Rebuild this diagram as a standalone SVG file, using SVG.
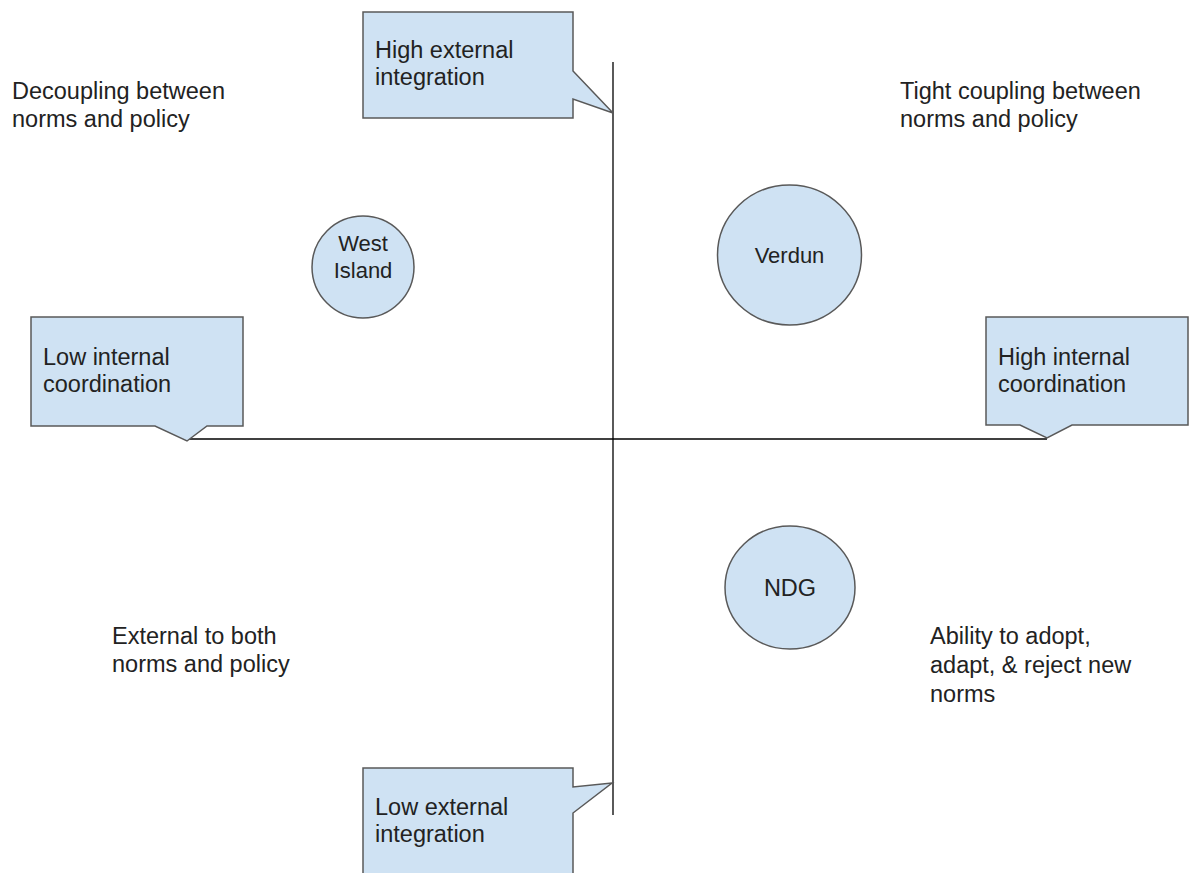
<svg xmlns="http://www.w3.org/2000/svg" width="1189" height="873" viewBox="0 0 1189 873">
<style>
.shape{fill:#cfe2f3;stroke:#595959;stroke-width:1.5}
.axis{stroke:#000;stroke-width:1.3;fill:none}
text{font-family:"Liberation Sans",Arial,sans-serif;font-size:23.5px;fill:#222}
.c{text-anchor:middle}
.s{font-size:22px}
</style>
<rect width="1189" height="873" fill="#fff"/>
<g id="connectors">
<line class="axis" x1="613" y1="62" x2="613" y2="815"/>
<line class="axis" x1="187" y1="439" x2="1047" y2="439"/>
</g>
<g id="high-external">
<path class="shape" d="M363,12 H573 V71 L613,113 L573,99 V118 H363 Z"/>
<text x="375" y="58">High external</text>
<text x="375" y="85">integration</text>
</g>
<g id="low-internal">
<path class="shape" d="M31,317 H243 V426 H207 L187,441 L155,426 H31 Z"/>
<text x="43" y="365">Low internal</text>
<text x="43" y="392">coordination</text>
</g>
<g id="high-internal">
<path class="shape" d="M986,317 H1188 V425 H1072 L1047,438 L1020,425 H986 Z"/>
<text x="998" y="365">High internal</text>
<text x="998" y="392">coordination</text>
</g>
<g id="low-external">
<path class="shape" d="M363,768 H573 V787 L612,783 L573,813 V880 H363 Z"/>
<text x="375" y="815">Low external</text>
<text x="375" y="842">integration</text>
</g>
<g id="west-island">
<circle class="shape" cx="363" cy="267" r="51"/>
<text class="c s" x="363" y="251">West</text>
<text class="c s" x="363" y="278">Island</text>
</g>
<g id="verdun">
<ellipse class="shape" cx="789.5" cy="255" rx="72" ry="70"/>
<text class="c s" x="789.5" y="263">Verdun</text>
</g>
<g id="ndg">
<ellipse class="shape" cx="790" cy="587.5" rx="65" ry="61.5"/>
<text class="c" x="790" y="596">NDG</text>
</g>
<g id="decoupling">
<text x="12" y="99">Decoupling between</text>
<text x="12" y="127">norms and policy</text>
</g>
<g id="tight-coupling">
<text x="900" y="99">Tight coupling between</text>
<text x="900" y="127">norms and policy</text>
</g>
<g id="external-both">
<text x="112" y="644">External to both</text>
<text x="112" y="672">norms and policy</text>
</g>
<g id="ability">
<text x="930" y="644">Ability to adopt,</text>
<text x="930" y="673">adapt, &amp; reject new</text>
<text x="930" y="702">norms</text>
</g>
</svg>
